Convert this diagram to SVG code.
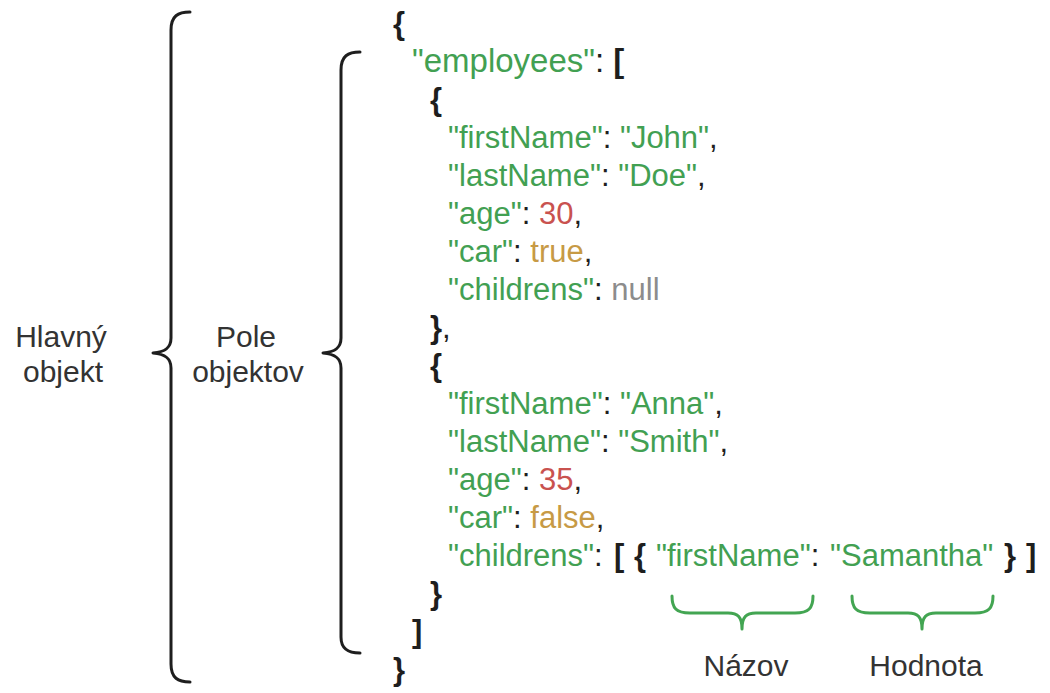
<svg xmlns="http://www.w3.org/2000/svg" width="1050" height="693" viewBox="0 0 1050 693">
  <style>
    text { font-family: "Liberation Sans", Arial, sans-serif; white-space: pre; }
    .code { font-size: 31px; fill: #1e1e1e; }
    .k { fill: #42a052; }
    .num { fill: #c9524f; }
    .bool { fill: #c79a45; }
    .nul { fill: #8c8c8c; }
    .p { font-weight: bold; fill: #1e1e1e; }
    .label { font-size: 30px; fill: #333333; text-anchor: middle; }
    .brace { fill: none; stroke: #1e1e1e; stroke-width: 3; stroke-linecap: round; stroke-linejoin: round; }
    .gbrace { fill: none; stroke: #43a552; stroke-width: 3; stroke-linecap: round; stroke-linejoin: round; }
  </style>

  <rect width="1050" height="693" fill="#ffffff"/>

  <!-- brackets grouping the JSON structure -->
  <g id="brackets">
    <path class="brace" d="M 190 12 C 178 12 171 16 171 30 L 171 338 C 171 348 165 352 153 353 C 165 354 171 358 171 368 L 171 664 C 171 678 178 682 190 682"/>
    <path class="brace" d="M 360 52 C 348 52 341 56 341 70 L 341 338 C 341 348 335 352 323 353 C 335 354 341 358 341 368 L 341 637 C 341 649 348 653 360 653"/>
    <path class="gbrace" d="M 672 596 C 672 608 676 613 690 613 L 728 613 C 738 613 742 617 742 629 C 742 617 746 613 756 613 L 795 613 C 809 613 813 608 813 596"/>
    <path class="gbrace" d="M 852 596 C 852 608 856 613 870 613 L 908 613 C 918 613 922 617 922 629 C 922 617 926 613 936 613 L 975 613 C 989 613 993 608 993 596"/>
  </g>

  <g id="label-main">
    <text class="label" x="61" y="347">Hlavný</text>
    <text class="label" x="63" y="382">objekt</text>
  </g>

  <g id="label-array">
    <text class="label" x="246" y="347">Pole</text>
    <text class="label" x="248" y="382">objektov</text>
  </g>

  <g id="json-code" class="code">
    <text x="393" y="34"><tspan class="p">{</tspan></text>
    <text x="412" y="72" style="font-size:33px"><tspan class="k">"employees"</tspan>: <tspan class="p">[</tspan></text>
    <text x="430" y="110"><tspan class="p">{</tspan></text>
    <text x="448" y="148"><tspan class="k">"firstName"</tspan>: <tspan class="k">"John"</tspan>,</text>
    <text x="448" y="186"><tspan class="k">"lastName"</tspan>: <tspan class="k">"Doe"</tspan>,</text>
    <text x="448" y="224"><tspan class="k">"age"</tspan>: <tspan class="num">30</tspan>,</text>
    <text x="448" y="262"><tspan class="k">"car"</tspan>: <tspan class="bool">true</tspan>,</text>
    <text x="448" y="300"><tspan class="k">"childrens"</tspan>: <tspan class="nul">null</tspan></text>
    <text x="430" y="338"><tspan class="p">}</tspan>,</text>
    <text x="430" y="376"><tspan class="p">{</tspan></text>
    <text x="448" y="414"><tspan class="k">"firstName"</tspan>: <tspan class="k">"Anna"</tspan>,</text>
    <text x="448" y="452"><tspan class="k">"lastName"</tspan>: <tspan class="k">"Smith"</tspan>,</text>
    <text x="448" y="490"><tspan class="k">"age"</tspan>: <tspan class="num">35</tspan>,</text>
    <text x="448" y="528"><tspan class="k">"car"</tspan>: <tspan class="bool">false</tspan>,</text>
    <text x="448" y="566"><tspan class="k">"childrens"</tspan>:<tspan class="p" x="614">[</tspan><tspan class="p" x="634">{</tspan><tspan class="k" x="656">"firstName"</tspan>:<tspan class="k" x="830">"Samantha"</tspan><tspan class="p" x="1004">}</tspan><tspan class="p" x="1026">]</tspan></text>
    <text x="430" y="604"><tspan class="p">}</tspan></text>
    <text x="412" y="642"><tspan class="p">]</tspan></text>
    <text x="393" y="680"><tspan class="p">}</tspan></text>
  </g>

  <g id="label-name">
    <text class="label" x="746" y="676">Názov</text>
  </g>

  <g id="label-value">
    <text class="label" x="926" y="676">Hodnota</text>
  </g>
</svg>
